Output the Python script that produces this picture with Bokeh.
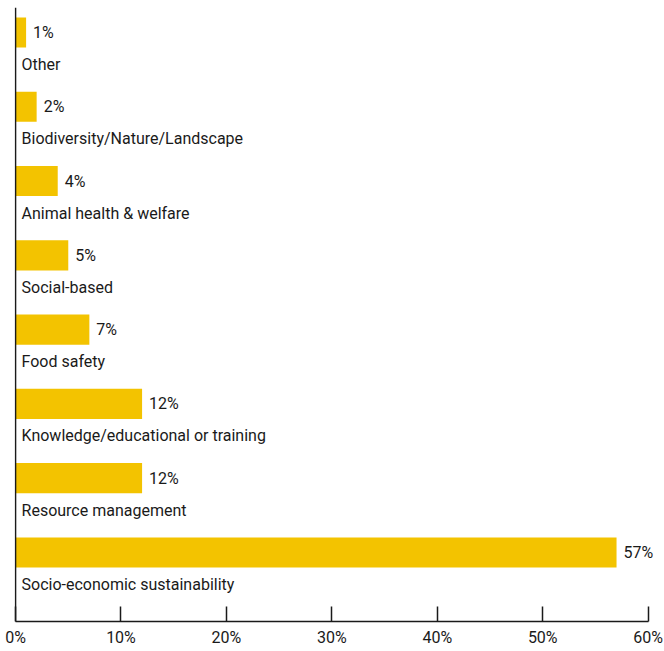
from bokeh.plotting import figure
from bokeh.models import Range1d, Span, FixedTicker, ColumnDataSource, CustomJSTickFormatter, LabelSet
from bokeh.core.properties import value
from bokeh.embed import file_html
from bokeh.resources import INLINE

categories = ["Other", "Biodiversity/Nature/Landscape", "Animal health & welfare",
              "Social-based", "Food safety", "Knowledge/educational or training",
              "Resource management", "Socio-economic sustainability"]
values = [1, 2, 4, 5, 7, 12, 12, 57]
tick_values = [0, 10, 20, 30, 40, 50, 60]

BAR = "#F3C300"
TXT = "#1a1a1a"
FONT = "Roboto"

rows = list(range(len(categories)))
src = ColumnDataSource(dict(
    y=rows, v=values, cat=categories,
    vlab=[f"{v}%" for v in values],
    cy=[r + 0.43 for r in rows],
))

p = figure(width=664, height=649, output_backend="svg", toolbar_location=None,
           x_range=Range1d(-0.1, 60.6), y_range=Range1d(7.93, -0.337),
           min_border_left=14, min_border_right=10, min_border_top=7, min_border_bottom=0)
p.outline_line_color = None
p.grid.visible = False
p.yaxis.visible = False

p.hbar(y="y", left=0, right="v", height=0.405, source=src, color=BAR, line_color=None)
p.add_layout(LabelSet(x="v", y="y", text="vlab", source=src, x_offset=7, text_align="left",
                      text_baseline="middle", text_font=value(FONT), text_font_size="16px",
                      text_color=TXT))
p.text(x=0, y="cy", text="cat", source=src, x_offset=6, text_align="left",
       text_baseline="middle", text_font=value(FONT), text_font_size="16px", text_color=TXT)

p.add_layout(Span(location=0, dimension="height", line_color=TXT, line_width=1.5))

ax = p.xaxis[0]
ax.ticker = FixedTicker(ticks=tick_values)
ax.bounds = (0, 60)
ax.formatter = CustomJSTickFormatter(code="return tick + '%';")
ax.axis_line_color = TXT
ax.axis_line_width = 1.5
ax.major_tick_in = 15
ax.major_tick_out = 0
ax.major_tick_line_color = TXT
ax.major_tick_line_width = 1.5
ax.minor_tick_line_color = None
ax.major_label_text_font = FONT
ax.major_label_text_font_size = "16px"
ax.major_label_text_color = TXT
ax.major_label_standoff = 6

open("out.html", "w").write(file_html(p, INLINE))
